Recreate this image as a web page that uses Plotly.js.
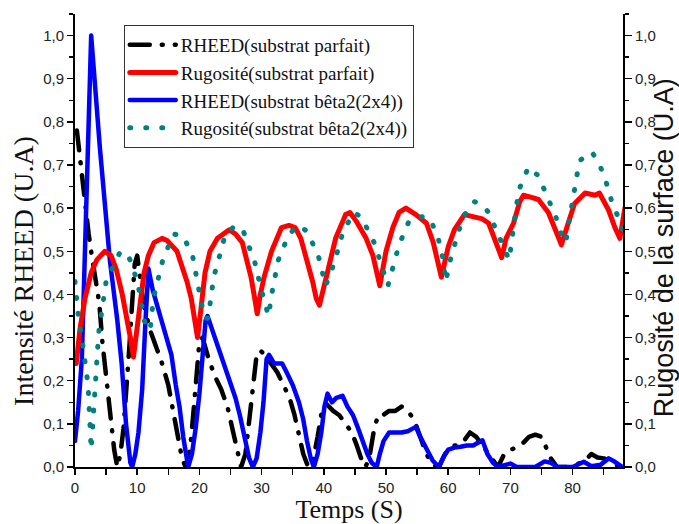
<!DOCTYPE html>
<html>
<head>
<meta charset="utf-8">
<script src="https://cdn.plot.ly/plotly-3.0.1.min.js"></script>
<style>
  html, body { margin:0; padding:0; background:#fff; }
  #chart { width:679px; height:524px; }
  path.js-line { stroke-linecap: round; stroke-linejoin: round; }
</style>
</head>
<body>
<div id="chart"></div>
<script>
// ---- Data ----
const seriesNames = [
  'RHEED(substrat parfait)',
  'Rugosité(substrat parfait)',
  'RHEED(substrat bêta2(2x4))',
  'Rugosité(substrat bêta2(2x4))'
];
const xTitle = 'Temps (S)';
const yTitleLeft = 'Intensité RHEED (U.A)';
const yTitleRight = 'Rugosité de la surface (U.A)';

// RHEED, perfect substrate (left axis)
const tRheedParfait = [0.3,0.6,1.0,1.6,2.2,2.7,3.3,3.9,4.4,4.9,5.4,5.9,6.3,6.8,7.3,7.8,8.3,8.7,9.1,9.6,10.0,10.5,11.0,12.0,13.0,14.0,15.0,15.8,16.5,17.2,17.8,18.5,19.0,19.5,20.0,20.5,21.5,22.5,23.5,24.5,25.3,26.0,26.7,27.4,28.0,28.6,29.2,29.8,30.5,31.5,32.5,33.5,34.5,35.3,36.0,36.7,37.5,38.2,39.0,39.7,40.5,41.5,42.5,43.5,44.5,45.3,46.0,46.7,47.3,48.0,48.7,49.5,50.5,51.5,52.5,53.5,54.5,55.5,56.5,57.5,58.5,59.5,60.5,61.5,62.5,63.5,64.5,65.5,66.5,67.3,68.0,69.0,70.0,71.0,72.0,73.0,74.0,75.0,75.8,76.5,77.5,79.0,80.5,82.0,83.0,84.0,85.0,86.0,87.0,88.0];
const rheedParfait = [0.78,0.74,0.69,0.60,0.54,0.49,0.44,0.38,0.29,0.22,0.16,0.09,0.04,0.0,0.03,0.09,0.18,0.27,0.36,0.47,0.49,0.44,0.38,0.32,0.28,0.24,0.19,0.13,0.07,0.02,0.0,0.04,0.12,0.22,0.29,0.30,0.25,0.21,0.18,0.14,0.09,0.04,0.0,0.03,0.10,0.19,0.26,0.27,0.26,0.24,0.22,0.19,0.16,0.12,0.07,0.03,0.0,0.01,0.07,0.13,0.145,0.13,0.12,0.10,0.08,0.05,0.02,0.0,0.02,0.08,0.12,0.12,0.13,0.13,0.14,0.13,0.11,0.07,0.03,0.005,0.0,0.03,0.05,0.05,0.06,0.08,0.07,0.05,0.03,0.01,0.0,0.03,0.04,0.045,0.055,0.07,0.075,0.07,0.045,0.02,0.0,0.0,0.005,0.015,0.03,0.022,0.02,0.015,0.005,0.0];

// Roughness, perfect substrate (right axis)
const tRugParfait = [0.2,0.8,1.6,2.6,3.5,4.8,5.8,6.6,7.6,8.3,8.9,9.4,9.9,10.4,11.1,11.8,12.7,14.0,14.8,16.4,17.3,18.0,18.7,19.3,19.7,20.2,20.9,21.7,22.9,24.8,25.8,26.9,27.6,28.3,28.9,29.3,29.8,30.4,31.6,33.2,34.4,35.4,36.3,37.3,38.2,38.8,39.3,40.4,41.9,43.5,44.2,45.2,46.8,47.9,48.7,49.0,50.0,51.1,52.1,53.2,54.8,56.5,57.6,58.5,58.9,60.0,61.0,62.6,64.5,65.5,66.5,67.5,68.2,68.6,69.3,70.5,71.5,72.1,73.4,74.5,76.1,77.1,77.9,78.2,79.4,80.3,82.0,83.6,84.3,85.8,86.8,87.6,88.4];
const rugParfait = [0.24,0.32,0.39,0.45,0.48,0.50,0.49,0.46,0.40,0.35,0.30,0.255,0.32,0.38,0.45,0.49,0.52,0.53,0.525,0.50,0.465,0.43,0.39,0.34,0.30,0.36,0.45,0.50,0.53,0.55,0.54,0.52,0.48,0.44,0.39,0.355,0.40,0.44,0.50,0.555,0.56,0.555,0.53,0.48,0.43,0.39,0.375,0.44,0.53,0.585,0.59,0.57,0.53,0.49,0.44,0.42,0.50,0.555,0.59,0.60,0.585,0.565,0.52,0.46,0.44,0.51,0.55,0.585,0.58,0.575,0.565,0.53,0.50,0.485,0.53,0.565,0.615,0.63,0.625,0.62,0.59,0.555,0.525,0.515,0.57,0.61,0.635,0.63,0.635,0.595,0.555,0.53,0.60];

// RHEED, beta2(2x4) substrate (left axis)
const tRheedBeta = [0,0.5,1.1,1.6,2.6,4.0,5.6,6.8,7.5,8.2,8.9,9.2,9.7,10.2,10.8,11.3,11.8,12.5,13.5,14.5,15.5,16.2,16.8,17.4,17.9,18.2,18.8,19.4,20.0,20.5,21.0,21.3,22.0,23.0,24.0,25.0,25.8,26.5,27.3,28.0,28.6,29.2,29.8,30.3,30.8,31.2,32.0,33.3,34.0,35.0,36.0,36.7,37.3,37.9,38.4,39.0,39.6,40.1,40.6,41.3,42.0,43.0,43.8,44.7,45.5,46.3,47.0,47.7,48.5,49.0,49.6,50.5,51.5,52.5,53.5,54.8,55.5,56.3,57.5,58.5,59.3,60.0,61.0,62.0,63.0,64.0,65.5,66.3,67.2,68.0,69.0,70.0,71.0,74.0,75.5,76.5,77.5,80.0,81.8,83.0,84.5,85.8,86.8,88.0];
const rheedBeta = [0.06,0.13,0.25,0.50,1.0,0.74,0.48,0.34,0.24,0.10,0.01,0.0,0.03,0.08,0.18,0.33,0.46,0.41,0.36,0.31,0.26,0.19,0.14,0.07,0.02,0.0,0.03,0.09,0.17,0.27,0.34,0.35,0.32,0.28,0.23,0.19,0.16,0.12,0.07,0.02,0.0,0.02,0.08,0.15,0.25,0.26,0.24,0.24,0.22,0.19,0.15,0.11,0.06,0.02,0.0,0.03,0.08,0.14,0.17,0.15,0.16,0.165,0.14,0.12,0.09,0.055,0.03,0.01,0.0,0.03,0.06,0.08,0.08,0.08,0.083,0.093,0.07,0.047,0.015,0.0,0.025,0.04,0.045,0.047,0.05,0.05,0.062,0.03,0.01,0.0,0.005,0.008,0.0,0.0,0.013,0.01,0.0,0.0,0.012,0.002,0.005,0.02,0.012,0.0];

// Roughness, beta2(2x4) substrate (right axis)
const tRugBeta = [0,0.6,1.1,1.6,2.1,2.6,2.9,3.2,3.5,3.8,5.0,7.3,8.5,9.2,10.3,11.4,12.1,12.6,14.2,15.9,17.4,18.0,18.9,19.8,20.8,21.4,22.3,24.2,25.8,27.1,28.1,28.9,29.8,31.1,31.8,32.7,34.4,36.0,37.4,38.2,39.2,40.3,41.6,43.1,44.8,46.0,47.1,48.1,49.0,50.3,52.1,53.7,55.3,56.5,57.4,58.4,59.2,59.6,60.5,62.4,64.2,65.3,66.5,67.4,68.4,69.4,69.8,71.3,72.9,74.5,75.5,76.3,77.3,78.4,78.9,79.5,80.3,81.1,83.1,84.2,85.2,86.3,87.3,88.2];
const rugBeta = [0.43,0.34,0.30,0.25,0.19,0.04,0.11,0.18,0.25,0.31,0.43,0.50,0.49,0.47,0.41,0.32,0.32,0.39,0.485,0.54,0.535,0.515,0.49,0.42,0.345,0.345,0.44,0.54,0.56,0.545,0.51,0.475,0.42,0.35,0.415,0.48,0.54,0.56,0.545,0.52,0.485,0.42,0.47,0.545,0.59,0.58,0.55,0.52,0.48,0.42,0.515,0.57,0.58,0.58,0.565,0.53,0.48,0.43,0.49,0.58,0.615,0.61,0.59,0.56,0.52,0.49,0.48,0.64,0.695,0.675,0.64,0.615,0.58,0.53,0.52,0.575,0.64,0.71,0.73,0.705,0.67,0.615,0.58,0.545];

// Axis tick values
const yTicks = [0,0.1,0.2,0.3,0.4,0.5,0.6,0.7,0.8,0.9,1.0];
const xTicks = [0,10,20,30,40,50,60,70,80];

// ---- Traces ----
const traces = [
  { x: tRheedParfait, y: rheedParfait, name: seriesNames[0], type:'scatter', mode:'lines',
    xaxis:'x', yaxis:'y',
    line:{color:'#000000', width:4.5, dash:'20px,12px,1px,12px'} },
  { x: tRugParfait, y: rugParfait, name: seriesNames[1], type:'scatter', mode:'lines',
    xaxis:'x', yaxis:'y2',
    line:{color:'#ff0000', width:5} },
  { x: tRheedBeta, y: rheedBeta, name: seriesNames[2], type:'scatter', mode:'lines',
    xaxis:'x', yaxis:'y',
    line:{color:'#0000ff', width:4.5} },
  { x: tRugBeta, y: rugBeta, name: seriesNames[3], type:'scatter', mode:'lines',
    xaxis:'x', yaxis:'y2',
    line:{color:'#008080', width:5, dash:'1px,15px'} }
];

const axisCommon = {
  showline:true, linecolor:'#000', linewidth:2, showgrid:false, zeroline:false,
  tickcolor:'#000', tickwidth:1.5, automargin:false
};

const yAxisCommon = Object.assign({}, axisCommon, {
  range:[0,1.05], tickmode:'array', tickvals:yTicks, tickformat:'.1f',
  ticks:'outside', ticklen:6,
  minor:{dtick:0.05, tick0:0, ticks:'outside', ticklen:4, tickwidth:1.5, tickcolor:'#000', showgrid:false},
  tickfont:{family:'Liberation Sans, Arial, sans-serif', size:15, color:'#222'}
});

const layout = {
  width:679, height:524,
  margin:{l:75, r:56, t:14, b:57, pad:0},
  paper_bgcolor:'#ffffff', plot_bgcolor:'#ffffff',
  separators:', ',
  showlegend:true,
  font:{family:'Liberation Sans, Arial, sans-serif', size:15, color:'#222'},
  xaxis: Object.assign({}, axisCommon, {
    range:[0,88.1], tickmode:'array', tickvals:xTicks,
    ticks:'outside', ticklen:6,
    minor:{dtick:5, tick0:0, ticks:'outside', ticklen:6, tickwidth:1.5, tickcolor:'#000', showgrid:false},
    tickfont:{family:'Liberation Sans, Arial, sans-serif', size:15, color:'#222'},
    title:{text:xTitle, font:{family:'Liberation Serif, Times New Roman, serif', size:26, color:'#111'}, standoff:4}
  }),
  xaxis2: Object.assign({}, axisCommon, {
    overlaying:'x', side:'top', anchor:'y',
    range:[0,10], dtick:1, tick0:0, ticks:'inside', ticklen:8,
    showticklabels:false
  }),
  yaxis: Object.assign({}, yAxisCommon, {}),
  yaxis2: Object.assign({}, yAxisCommon, {
    overlaying:'y', side:'right', anchor:'x',
    ticklen:7
  }),
  annotations:[
    { text:yTitleLeft, xref:'paper', yref:'paper', x:-0.093, y:0.433,
      xanchor:'center', yanchor:'middle', textangle:-90, showarrow:false,
      font:{family:'Liberation Serif, Times New Roman, serif', size:28, color:'#111'} },
    { text:yTitleRight, xref:'paper', yref:'paper', x:1.075, y:0.483,
      xanchor:'center', yanchor:'middle', textangle:-90, showarrow:false,
      font:{family:'Liberation Sans, Arial, sans-serif', size:27, color:'#111'} }
  ],
  legend:{
    x:0.089, y:0.976, xanchor:'left', yanchor:'top',
    bgcolor:'#ffffff', bordercolor:'#333', borderwidth:1,
    font:{family:'Liberation Serif, Times New Roman, serif', size:19, color:'#111'},
    itemwidth:46, tracegroupgap:0, traceorder:'normal'
  }
};

Plotly.newPlot('chart', traces, layout, {staticPlot:true, displayModeBar:false});
</script>
</body>
</html>
